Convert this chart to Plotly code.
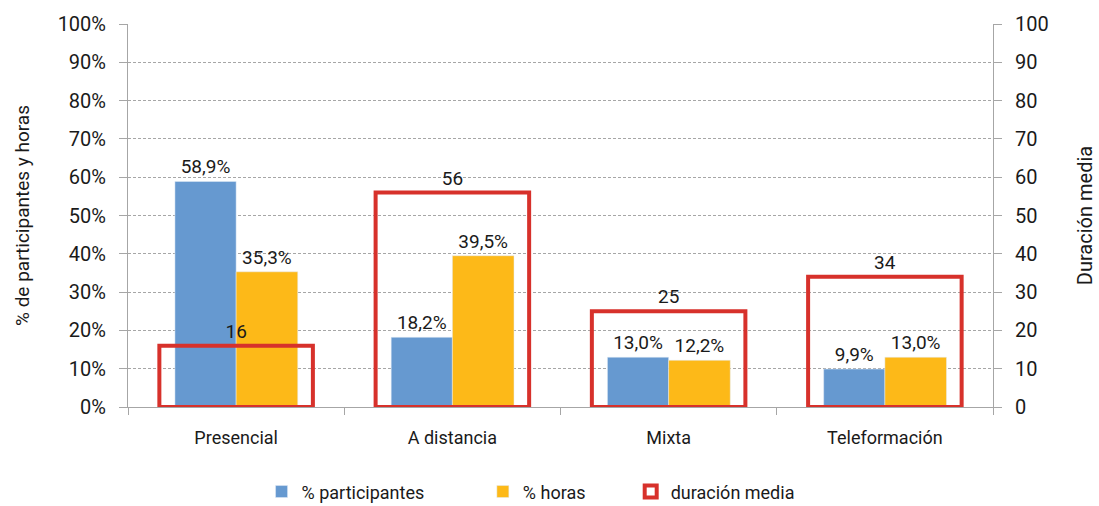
import plotly.graph_objects as go

categorias = ["Presencial", "A distancia", "Mixta", "Teleformación"]
pct_participantes = [58.9, 18.2, 13.0, 9.9]
pct_horas = [35.3, 39.5, 12.2, 13.0]
duracion_media = [16, 56, 25, 34]

FONT = "Roboto, sans-serif"
TXT = "#1a1a1a"
GRID = "#A6A6A6"
NB = "\u00a0"

fig = go.Figure()

fig.add_trace(go.Bar(
    x=categorias, y=pct_participantes, name="% participantes" + NB * 12,
    marker=dict(color="#6699D0"), width=0.283, offset=-0.283,
    texttemplate="%{y:.1f}%", textposition="outside",
    textfont=dict(size=19, color=TXT), cliponaxis=False,
))
fig.add_trace(go.Bar(
    x=categorias, y=pct_horas, name="% horas" + NB * 9,
    marker=dict(color="#FDB918"), width=0.285, offset=0,
    texttemplate="%{y:.1f}%", textposition="outside",
    textfont=dict(size=19, color=TXT), cliponaxis=False,
))
fig.add_trace(go.Bar(
    x=categorias, y=duracion_media, name="duración media", yaxis="y2",
    marker=dict(color="rgba(255,255,255,0)", line=dict(color="#D7312B", width=4)),
    width=0.71, offset=-0.355,
    text=[str(v) for v in duracion_media], textposition="outside",
    textfont=dict(size=19, color=TXT), cliponaxis=False,
))

fig.update_layout(
    width=1099, height=506,
    margin=dict(l=128, r=106, t=24, b=99),
    paper_bgcolor="white", plot_bgcolor="white",
    font=dict(family=FONT, size=18, color=TXT),
    separators=",.",
    barmode="overlay",
    showlegend=True,
    legend=dict(orientation="h", xref="container", yref="container",
                x=0.238, xanchor="left", y=0.028, yanchor="middle",
                font=dict(size=18), traceorder="normal", tracegroupgap=0),
    xaxis=dict(
        showline=True, linecolor=GRID, linewidth=1, automargin=False,
        ticks="outside", tickson="boundaries", tickcolor=GRID, ticklen=7,
        tickfont=dict(size=18), range=[-0.5, 3.5], ticklabelstandoff=14,
    ),
    yaxis=dict(
        range=[0, 100], dtick=10, ticksuffix="%", automargin=False,
        showline=True, linecolor=GRID, linewidth=1,
        ticks="outside", tickcolor=GRID, ticklen=8, ticklabelstandoff=9,
        showgrid=True, gridcolor=GRID, griddash="3px,2px", gridwidth=1,
        title=dict(text="% de participantes y horas", font=dict(size=19), standoff=22),
        tickfont=dict(size=20),
    ),
    yaxis2=dict(
        range=[0, 100], dtick=10, overlaying="y", side="right", automargin=False,
        showline=True, linecolor=GRID, linewidth=1,
        ticks="outside", tickcolor=GRID, ticklen=8, showgrid=False, ticklabelstandoff=9,
        title=dict(text="Duración media", font=dict(size=20), standoff=30),
        tickfont=dict(size=20),
    ),
)

fig.write_html("out.html", config={"displayModeBar": False},
               post_script="document.body.style.margin='0px';")
